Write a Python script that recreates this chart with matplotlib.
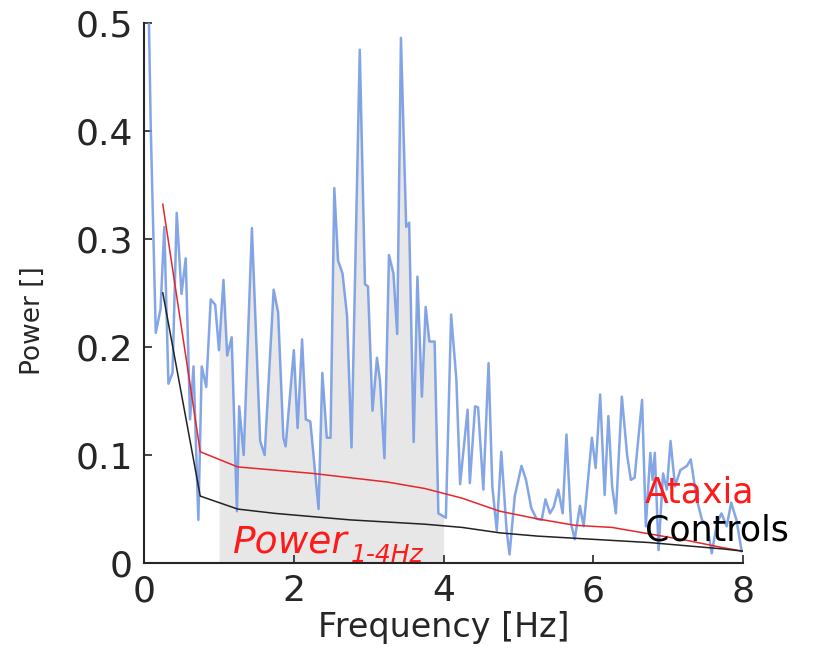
import numpy as np
import matplotlib
matplotlib.use('Agg')
import matplotlib.pyplot as plt

# spectrum of one patient (blue)
freq = [0.05, 0.09, 0.156, 0.22, 0.27, 0.325, 0.38, 0.436, 0.50, 0.556, 0.614, 0.66,
        0.725, 0.77, 0.83, 0.89, 0.95, 1.0, 1.06, 1.11, 1.17, 1.24, 1.27, 1.33, 1.44,
        1.55, 1.61, 1.73, 1.79, 1.86, 1.89, 2.0, 2.05, 2.11, 2.16, 2.22, 2.33, 2.38,
        2.44, 2.49, 2.54, 2.59, 2.65, 2.71, 2.77, 2.88, 2.95, 2.99, 3.05, 3.11, 3.15,
        3.21, 3.27, 3.33, 3.38, 3.43, 3.50, 3.54, 3.60, 3.65, 3.71, 3.76, 3.81, 3.88,
        3.93, 4.03, 4.10, 4.17, 4.22, 4.32, 4.35, 4.42, 4.46, 4.53, 4.60, 4.65, 4.71,
        4.77, 4.84, 4.88, 4.95, 5.04, 5.10, 5.17, 5.24, 5.31, 5.36, 5.42, 5.47, 5.53,
        5.59, 5.64, 5.70, 5.75, 5.82, 5.87, 5.98, 6.03, 6.09, 6.15, 6.20, 6.25, 6.30,
        6.38, 6.45, 6.50, 6.55, 6.65, 6.70, 6.76, 6.79, 6.82, 6.87, 6.93, 6.98, 7.03,
        7.09, 7.16, 7.25, 7.30, 7.38, 7.45, 7.52, 7.58, 7.65, 7.71, 7.78, 7.84, 7.91,
        7.98]
power = [0.56, 0.40, 0.213, 0.235, 0.311, 0.166, 0.176, 0.324, 0.249, 0.282, 0.133, 0.182,
         0.040, 0.182, 0.163, 0.244, 0.239, 0.197, 0.262, 0.192, 0.209, 0.048, 0.145, 0.100, 0.310,
         0.113, 0.100, 0.253, 0.232, 0.116, 0.108, 0.197, 0.125, 0.207, 0.133, 0.131, 0.050, 0.176,
         0.116, 0.116, 0.347, 0.280, 0.268, 0.229, 0.107, 0.475, 0.258, 0.256, 0.141, 0.190, 0.169,
         0.097, 0.285, 0.268, 0.212, 0.486, 0.311, 0.315, 0.112, 0.265, 0.154, 0.237, 0.205, 0.205,
         0.046, 0.042, 0.230, 0.170, 0.073, 0.142, 0.074, 0.145, 0.144, 0.068, 0.185, 0.071, 0.030,
         0.103, 0.031, 0.008, 0.062, 0.090, 0.077, 0.051, 0.041, 0.040, 0.059, 0.046, 0.052, 0.068,
         0.046, 0.119, 0.037, 0.022, 0.053, 0.034, 0.116, 0.088, 0.156, 0.063, 0.136, 0.071, 0.046,
         0.154, 0.100, 0.077, 0.079, 0.151, 0.034, 0.102, 0.077, 0.102, 0.012, 0.083, 0.068, 0.113,
         0.071, 0.086, 0.090, 0.096, 0.059, 0.040, 0.034, 0.009, 0.037, 0.046, 0.034, 0.056, 0.040,
         0.011]

# group averages
grp_freq = [0.25, 0.75, 1.25, 1.75, 2.25, 2.75, 3.25, 3.75, 4.25, 4.75, 5.25, 5.75,
            6.25, 6.75, 7.25, 7.75, 8.0]
ataxia = [0.332, 0.103, 0.089, 0.086, 0.083, 0.079, 0.075, 0.069, 0.060, 0.048, 0.041,
          0.035, 0.033, 0.027, 0.021, 0.014, 0.011]
controls = [0.250, 0.062, 0.050, 0.046, 0.043, 0.040, 0.038, 0.036, 0.033, 0.028, 0.025,
            0.023, 0.021, 0.019, 0.016, 0.013, 0.011]

band = (1, 4)

plt.rcParams['font.family'] = ['DejaVu Sans']

fig = plt.figure(figsize=(8.14, 6.48), dpi=100)
ax = fig.add_axes([0.177, 0.131, 0.736, 0.834])

f = np.array(freq)
p = np.array(power)
m = (f > band[0]) & (f < band[1])
fx = np.concatenate([[band[0]], f[m], [band[1]]])
fy = np.concatenate([[np.interp(band[0], f, p)], p[m], [np.interp(band[1], f, p)]])
ax.fill_between(fx, 0, fy, color='#e7e7e7', lw=0, zorder=1)

ax.plot(freq, power, color='#6f96e2', lw=1.8, alpha=0.85, zorder=2)
ax.plot(grp_freq, ataxia, color='#e8262a', lw=1.1, zorder=3)
ax.plot(grp_freq, controls, color='#222222', lw=1.1, zorder=3)

t = ax.text(1.19, 0.010, 'Power', color='#ff1a1a', fontsize=27, style='italic', zorder=4)
ax.annotate('1-4Hz', xy=(1.0, 0.0), xycoords=t, xytext=(2, -5), textcoords='offset points',
            color='#ff1a1a', fontsize=18, style='italic', va='bottom', zorder=4)
ax.text(6.69, 0.056, 'Ataxia', color='#ff1a1a', fontsize=25, zorder=4)
ax.text(6.69, 0.021, 'Controls', color='black', fontsize=25, zorder=4)

ax.set_xlim(0, 8)
ax.set_ylim(0, 0.5)
ax.set_xticks([0, 2, 4, 6, 8])
ax.set_yticks([0, 0.1, 0.2, 0.3, 0.4, 0.5])
ax.set_yticklabels(['0', '0.1', '0.2', '0.3', '0.4', '0.5'])
ax.tick_params(direction='in', length=6, width=1.2, labelsize=26, colors='#262626')
ax.tick_params(axis='x', pad=8)
ax.tick_params(axis='y', pad=8)
for s in ['top', 'right']:
    ax.spines[s].set_visible(False)
for s in ['left', 'bottom']:
    ax.spines[s].set_linewidth(1.5)
    ax.spines[s].set_color('#262626')
ax.set_xlabel('Frequency [Hz]', fontsize=24, color='#262626')
ax.xaxis.set_label_coords(0.5, -0.088)
ax.set_ylabel('Power []', fontsize=19, color='#262626')
ax.yaxis.set_label_coords(-0.163, 0.449)

fig.savefig('out.png', dpi=100)
